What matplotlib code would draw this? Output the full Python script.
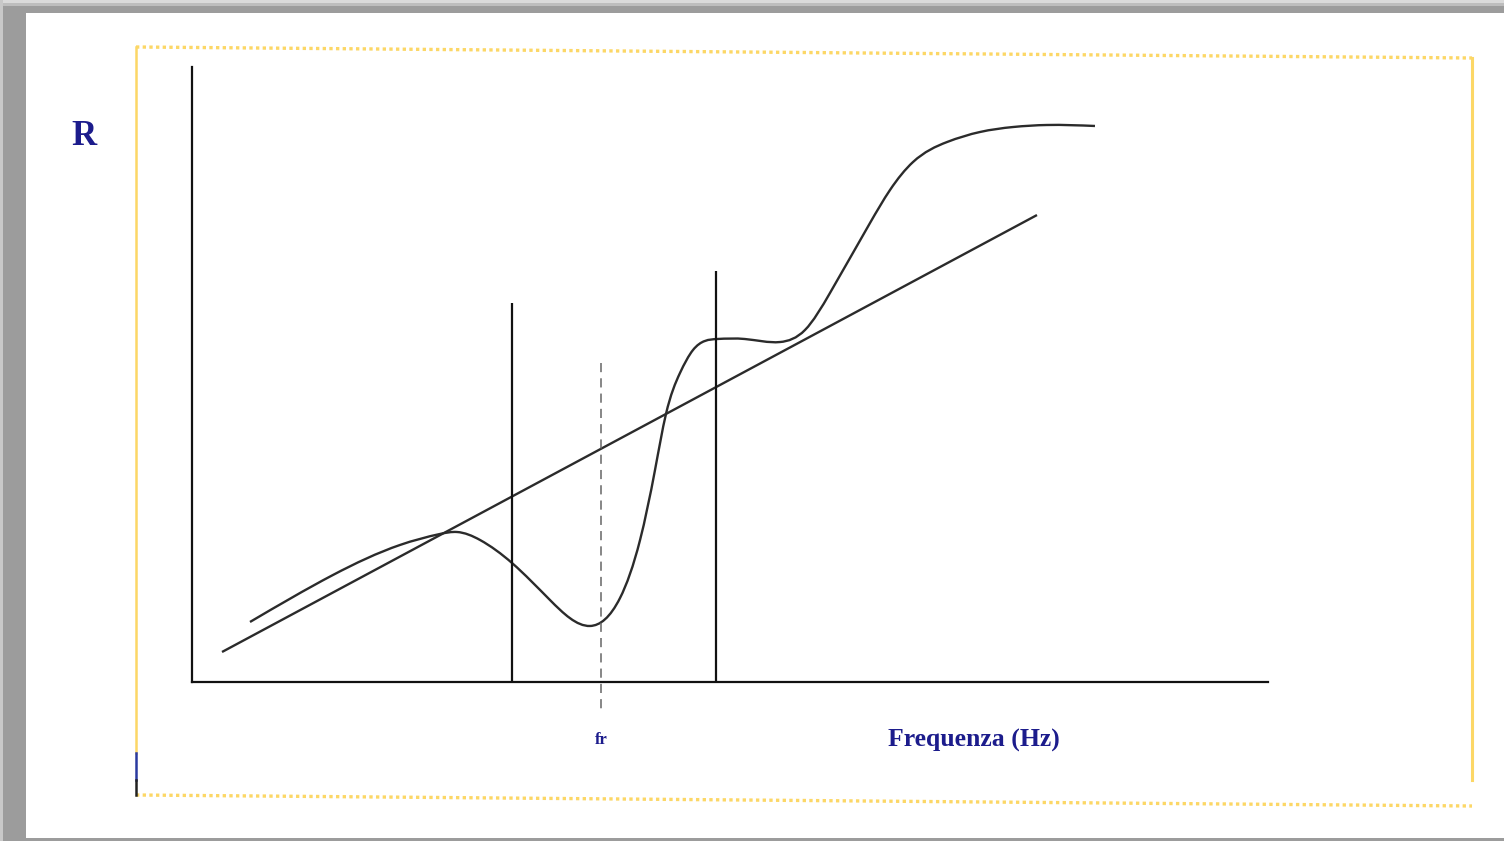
import matplotlib
matplotlib.use("Agg")
import matplotlib.pyplot as plt
from matplotlib.patches import Rectangle, PathPatch
from matplotlib.path import Path

# ---- data (arbitrary units: frequency 0..100, R 0..100) ----
curve_f = [5.39, 13.10, 19.33, 23.05, 24.63, 26.77, 29.74, 33.27, 36.99,
           39.78, 41.64, 43.03, 44.05, 45.35, 46.56, 48.79, 51.39, 54.65,
           56.97, 59.29, 63.01, 64.87, 67.01, 70.17, 73.23, 76.30, 79.46, 83.92]
curve_r = [9.76, 17.40, 22.28, 24.07, 24.39, 23.09, 19.35, 13.33, 9.11,
           13.66, 23.09, 34.47, 43.58, 50.24, 53.98, 55.77, 55.77, 55.28,
           57.24, 63.25, 74.63, 80.00, 84.55, 87.80, 89.43, 90.24, 90.57, 90.41]
trend_f = [2.79, 78.53]
trend_r = [4.88, 75.93]
band_f = [29.74, 48.70]
band_top = [61.63, 66.83]
fr_f = 38.01
fr_top = 51.87
fr_bottom = -4.55
x_label = "Frequenza (Hz)"
y_label = "R"
fr_label = "fr"


def smooth_path(xs, ys):
    """Natural cubic spline through the points, drawn as a Bezier path."""
    n = len(xs)
    h = [xs[i + 1] - xs[i] for i in range(n - 1)]
    d = [(ys[i + 1] - ys[i]) / h[i] for i in range(n - 1)]
    a = [0.0] * n
    b = [1.0] * n
    c = [0.0] * n
    r = [0.0] * n
    for i in range(1, n - 1):
        a[i] = h[i - 1]
        b[i] = 2 * (h[i - 1] + h[i])
        c[i] = h[i]
        r[i] = 6 * (d[i] - d[i - 1])
    for i in range(1, n):
        w = a[i] / b[i - 1]
        b[i] -= w * c[i - 1]
        r[i] -= w * r[i - 1]
    M = [0.0] * n
    M[-1] = r[-1] / b[-1]
    for i in range(n - 2, -1, -1):
        M[i] = (r[i] - c[i] * M[i + 1]) / b[i]
    m = [d[i] - h[i] * (2 * M[i] + M[i + 1]) / 6 for i in range(n - 1)]
    m.append(d[-1] + h[-1] * (M[-2] + 2 * M[-1]) / 6)
    verts = [(xs[0], ys[0])]
    codes = [Path.MOVETO]
    for i in range(n - 1):
        verts += [(xs[i] + h[i] / 3, ys[i] + m[i] * h[i] / 3),
                  (xs[i + 1] - h[i] / 3, ys[i + 1] - m[i + 1] * h[i] / 3),
                  (xs[i + 1], ys[i + 1])]
        codes += [Path.CURVE4] * 3
    return Path(verts, codes)


W, H = 1504, 841
fig = plt.figure(figsize=(W / 100, H / 100), dpi=100)
fig.patch.set_facecolor("#9c9c9c")

ov = fig.add_axes([0, 0, 1, 1])
ov.set_xlim(0, W)
ov.set_ylim(H, 0)
ov.axis("off")
ov.add_patch(Rectangle((0, 0), W, 3, color="#dadada", lw=0))
ov.add_patch(Rectangle((0, 3), W, 3, color="#bdbdbd", lw=0))
ov.add_patch(Rectangle((0, 0), 3, H, color="#c8c8c8", lw=0))
ov.add_patch(Rectangle((26, 13), W - 26, 825, color="white", lw=0))

yel = "#fcd766"
ov.plot([136, 1472], [47, 58], color=yel, lw=2.4, ls=(0, (1.0, 1.0)))
ov.plot([136, 1472], [795, 806], color=yel, lw=2.4, ls=(0, (1.0, 1.0)))
ov.plot([136, 136], [47, 753], color=yel, lw=1.8)
ov.plot([1472, 1472], [58, 780], color=yel, lw=2.2)
ov.plot([136, 136], [753, 780], color="#2a3aa0", lw=1.8)
ov.plot([136, 136], [780, 795], color="#222222", lw=1.8)

blue = "#1c1c8c"
ov.text(84, 136, y_label, fontsize=25, color=blue, family="Liberation Serif",
        fontweight="bold", ha="center", va="center")
ov.text(601, 740, fr_label, fontsize=12, color=blue, family="Liberation Serif",
        fontweight="bold", ha="center", va="center")
ov.text(974, 740, x_label, fontsize=18.5, color=blue, family="Liberation Serif",
        fontweight="bold", ha="center", va="center")

ax = fig.add_axes([192 / W, (H - 682) / H, 1076 / W, 615 / H])
ax.set_xlim(0, 100)
ax.set_ylim(0, 100)
ax.patch.set_alpha(0)
for s in ["top", "right"]:
    ax.spines[s].set_visible(False)
for s in ["left", "bottom"]:
    ax.spines[s].set_linewidth(1.6)
    ax.spines[s].set_color("#111111")
ax.set_xticks([])
ax.set_yticks([])

lc = "#2b2b2b"
ax.add_patch(PathPatch(smooth_path(curve_f, curve_r), facecolor="none",
                       edgecolor=lc, lw=1.7, capstyle="butt"))
ax.plot(trend_f, trend_r, color=lc, lw=1.7, solid_capstyle="butt")
ax.vlines(band_f, [0, 0], band_top, color="#111111", lw=1.6)
ax.plot([fr_f, fr_f], [fr_top, fr_bottom], color="#666666", lw=1.1,
        ls=(0, (6, 4)), clip_on=False)

fig.savefig("out.png", dpi=100)
